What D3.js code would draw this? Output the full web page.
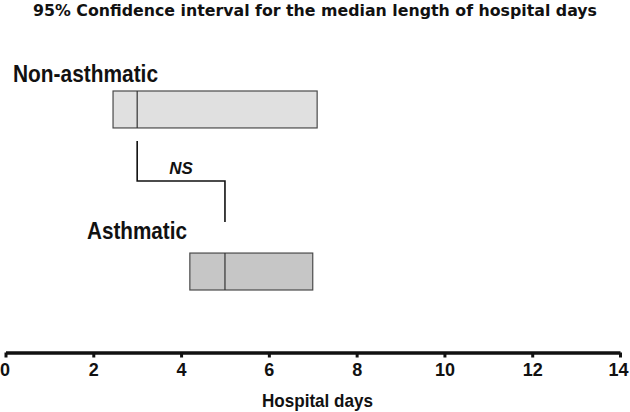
<!DOCTYPE html>
<html>
<head>
<meta charset="utf-8">
<script src="https://cdn.jsdelivr.net/npm/d3@7"></script>
<style>
  body { margin: 0; background: #fff; }
  svg text { font-family: "Liberation Sans", Arial, sans-serif; font-weight: bold; fill: #111; }
</style>
</head>
<body>
<svg id="chart" width="630" height="412"></svg>
<script>
// groups, confidence interval bounds and medians (hospital days)
var groups = ["Non-asthmatic", "Asthmatic"];
var ciLow = [2.45, 4.2];
var ciHigh = [7.1, 7.0];
var medians = [3, 5];
var fills = ["#e0e0e0", "#c6c6c6"];
var xTicks = [0, 2, 4, 6, 8, 10, 12, 14];

var svg = d3.select("#chart");

var x = d3.scaleLinear().domain([0, 14]).range([5.5, 620]);
// vertical band for each group's box
var y = d3.scaleBand().domain(groups).range([91, 290]).paddingInner(0.772);

svg.append("text")
  .attr("x", 33).attr("y", 16)
  .attr("textLength", 564)
  .attr("lengthAdjust", "spacingAndGlyphs")
  .style("font-family", "'DejaVu Sans', Verdana, sans-serif")
  .style("font-size", "15px")
  .text("95% Confidence interval for the median length of hospital days");

// group labels
var labelX = [13, 87];
var labelY = [82, 239];
var labelW = [145, 100];
groups.forEach(function(g, i) {
  svg.append("text")
    .attr("x", labelX[i]).attr("y", labelY[i])
    .attr("textLength", labelW[i])
    .attr("lengthAdjust", "spacingAndGlyphs")
    .style("font-size", "24px")
    .text(g);
});

// boxes
var boxes = svg.selectAll("g.box").data(groups).enter().append("g").attr("class", "box");
boxes.append("rect")
  .attr("x", function(d, i) { return x(ciLow[i]); })
  .attr("y", function(d) { return y(d); })
  .attr("width", function(d, i) { return x(ciHigh[i]) - x(ciLow[i]); })
  .attr("height", y.bandwidth())
  .attr("fill", function(d, i) { return fills[i]; })
  .attr("stroke", "#4a4a4a")
  .attr("stroke-width", 1.2);
boxes.append("line")
  .attr("x1", function(d, i) { return x(medians[i]); })
  .attr("x2", function(d, i) { return x(medians[i]); })
  .attr("y1", function(d) { return y(d); })
  .attr("y2", function(d) { return y(d) + y.bandwidth(); })
  .attr("stroke", "#333")
  .attr("stroke-width", 1.2);

// NS comparison bracket between the medians
var bracketTop = y(groups[0]) + y.bandwidth() + 13;
svg.append("path")
  .attr("d", "M" + x(medians[0]) + "," + bracketTop +
             "V181H" + x(medians[1]) + "V222")
  .attr("fill", "none")
  .attr("stroke", "#111")
  .attr("stroke-width", 1.6);
svg.append("text")
  .attr("x", (x(medians[0]) + x(medians[1])) / 2).attr("y", 174)
  .attr("text-anchor", "middle")
  .style("font-size", "17px")
  .style("font-style", "italic")
  .text("NS");

// x axis
var xAxis = svg.append("g")
  .attr("transform", "translate(0,352.5)")
  .call(d3.axisBottom(x).tickValues(xTicks).tickSizeOuter(0).tickSizeInner(5).tickPadding(4));
xAxis.select(".domain").attr("stroke", "#111").attr("stroke-width", 3.5);
xAxis.selectAll(".tick line").attr("stroke", "#111").attr("stroke-width", 3);
xAxis.selectAll(".tick text")
  .attr("y", 11)
  .style("font-size", "18px")
  .style("font-family", "'Liberation Sans', Arial, sans-serif")
  .style("font-weight", "bold")
  .attr("fill", "#111");
xAxis.selectAll(".tick text").filter(function(d) { return d === 14; }).attr("dx", -2);
xAxis.selectAll(".tick text").filter(function(d) { return d === 0; }).attr("dx", -1);

svg.append("text")
  .attr("x", 262).attr("y", 407)
  .attr("textLength", 111)
  .attr("lengthAdjust", "spacingAndGlyphs")
  .style("font-size", "19px")
  .text("Hospital days");
</script>
</body>
</html>
